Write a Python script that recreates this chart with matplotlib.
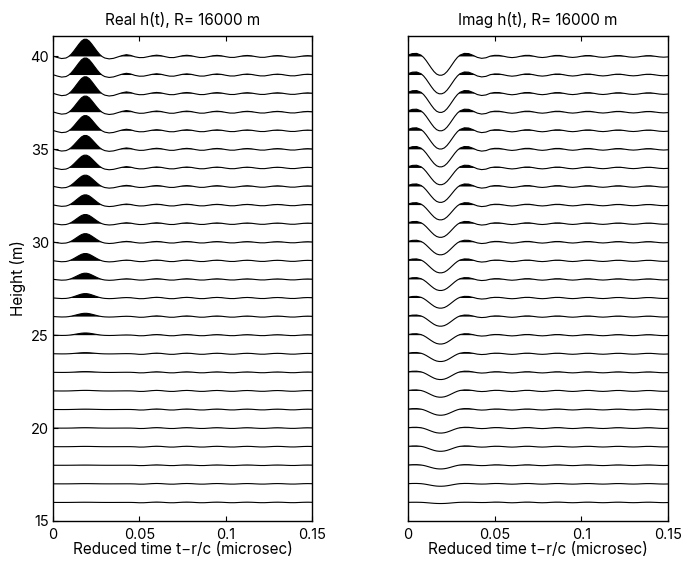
import numpy as np
import matplotlib
matplotlib.use("Agg")
import matplotlib.pyplot as plt

plt.rcParams['font.family'] = ['Inter', 'DejaVu Sans']

# ---------------- data ----------------
heights = list(range(16, 41))          # trace baselines (m)

# sample times of the main pulse (microsec)
t_head = [0.0, 0.0025, 0.005, 0.0075, 0.009, 0.0105, 0.012, 0.0135, 0.015,
          0.0165, 0.018, 0.0195, 0.021, 0.0225, 0.024, 0.0255, 0.027,
          0.0285, 0.030, 0.0325, 0.035, 0.0375, 0.040, 0.0425, 0.045]
# normalised real pulse shape
real_head = [0.02, -0.06, -0.12, -0.09, -0.01, 0.12, 0.30, 0.50, 0.70,
             0.88, 0.98, 0.98, 0.88, 0.70, 0.50, 0.30, 0.12, -0.01,
             -0.09, -0.14, -0.11, -0.03, 0.05, 0.10, 0.06]
# normalised imaginary pulse shape
imag_head = [0.07, 0.15, 0.16, 0.07, -0.05, -0.22, -0.42, -0.62, -0.80,
             -0.93, -0.99, -0.99, -0.93, -0.80, -0.62, -0.42, -0.22, -0.05,
             0.07, 0.16, 0.15, 0.06, -0.05, -0.10, -0.07]

# sample times of the late ringing
t_tail = [0.0475, 0.05, 0.0525, 0.055, 0.0575, 0.06, 0.0625, 0.065, 0.0675,
          0.07, 0.0725, 0.075, 0.0775, 0.08, 0.0825, 0.085, 0.0875, 0.09,
          0.0925, 0.095, 0.0975, 0.1, 0.1025, 0.105, 0.1075, 0.11, 0.1125,
          0.115, 0.1175, 0.12, 0.1225, 0.125, 0.1275, 0.13, 0.1325, 0.135,
          0.1375, 0.14, 0.1425, 0.145, 0.1475, 0.15]
real_tail = [-0.3, -0.9, -0.85, -0.2, 0.55, 0.97, 0.6, -0.2, -0.85, -0.88,
             -0.2, 0.55, 0.9, 0.55, -0.2, -0.8, -0.8, -0.18, 0.5, 0.82, 0.5,
             -0.18, -0.72, -0.74, -0.17, 0.46, 0.75, 0.45, -0.16, -0.66,
             -0.68, -0.15, 0.42, 0.68, 0.42, -0.15, -0.6, -0.62, -0.14, 0.38,
             0.62, 0.38]
imag_tail = [0.3, 0.9, 0.85, 0.2, -0.55, -0.97, -0.6, 0.2, 0.85, 0.88,
             0.2, -0.55, -0.9, -0.55, 0.2, 0.8, 0.8, 0.18, -0.5, -0.82, -0.5,
             0.18, 0.72, 0.74, 0.17, -0.46, -0.75, -0.45, 0.16, 0.66,
             0.68, 0.15, -0.42, -0.68, -0.42, 0.15, 0.6, 0.62, 0.14, -0.38,
             -0.62, -0.38]

# amplitudes per height (16 ... 40)
amp_real = [0.01, 0.01, 0.01, 0.015, 0.02, 0.02, 0.03, 0.04, 0.06, 0.12,
            0.18, 0.24, 0.34, 0.40, 0.47, 0.50, 0.56, 0.62, 0.70, 0.76,
            0.83, 0.88, 0.92, 0.93, 0.94]
amp_imag = [0.06, 0.13, 0.20, 0.25, 0.27, 0.31, 0.34, 0.39, 0.42, 0.48,
            0.52, 0.55, 0.60, 0.65, 0.68, 0.74, 0.80, 0.86, 0.91, 0.95,
            0.99, 1.01, 1.02, 1.02, 1.02]
amp_real_tail = [0.02, 0.02, 0.02, 0.025, 0.025, 0.03, 0.03, 0.03, 0.035,
                 0.035, 0.04, 0.04, 0.04, 0.045, 0.045, 0.05, 0.05, 0.055,
                 0.055, 0.06, 0.06, 0.065, 0.065, 0.07, 0.07]
amp_imag_tail = [0.02, 0.02, 0.025, 0.025, 0.03, 0.03, 0.035, 0.035, 0.035,
                 0.04, 0.04, 0.04, 0.045, 0.045, 0.05, 0.05, 0.05, 0.055,
                 0.055, 0.06, 0.06, 0.06, 0.065, 0.065, 0.065]

titles = ["Real h(t), R= 16000 m", "Imag h(t), R= 16000 m"]
xlabel = "Reduced time t\u2212r/c (microsec)"
ylabel = "Height (m)"
xticks = [0, 0.05, 0.1, 0.15]
xticklabels = ["0", "0.05", "0.1", "0.15"]
yticks = [15, 20, 25, 30, 35, 40]

# ---------------- figure ----------------
fig = plt.figure(figsize=(6.97, 5.62), dpi=100)
ax1 = fig.add_axes([53/697, 1-521/562, 259/697, 485/562])
ax2 = fig.add_axes([408/697, 1-521/562, 260/697, 485/562])

t_all = np.concatenate([t_head, t_tail])


def draw(ax, head, tail, amps, tamps):
    for h, a, ta in zip(heights, amps, tamps):
        y = h + np.concatenate([a * np.asarray(head), ta * np.asarray(tail)])
        ax.fill_between(t_all, h, y, where=y > h, interpolate=True,
                        color='black', linewidth=0)
        ax.plot(t_all, y, color='black', lw=0.8)


draw(ax1, real_head, real_tail, amp_real, amp_real_tail)
draw(ax2, imag_head, imag_tail, amp_imag, amp_imag_tail)

for ax, title in zip((ax1, ax2), titles):
    ax.set_xlim(0, 0.15)
    ax.set_ylim(15, 41.1)
    ax.set_xticks(xticks)
    ax.set_xticklabels(xticklabels)
    ax.tick_params(axis='x', direction='in', top=True, bottom=True,
                   length=3.5, width=0.8, labelsize=10.5, pad=5)
    ax.set_title(title, fontsize=11, pad=8)
    ax.set_xlabel(xlabel, fontsize=11, labelpad=0)
    for s in ax.spines.values():
        s.set_linewidth(1.0)

ax1.set_yticks(yticks)
ax1.tick_params(axis='y', direction='in', left=True, right=False,
                length=3.5, width=0.8, labelsize=10.5, pad=3)
ax1.set_ylabel(ylabel, fontsize=11, labelpad=3)
ax2.set_yticks([])

fig.savefig("out.png", dpi=100)
